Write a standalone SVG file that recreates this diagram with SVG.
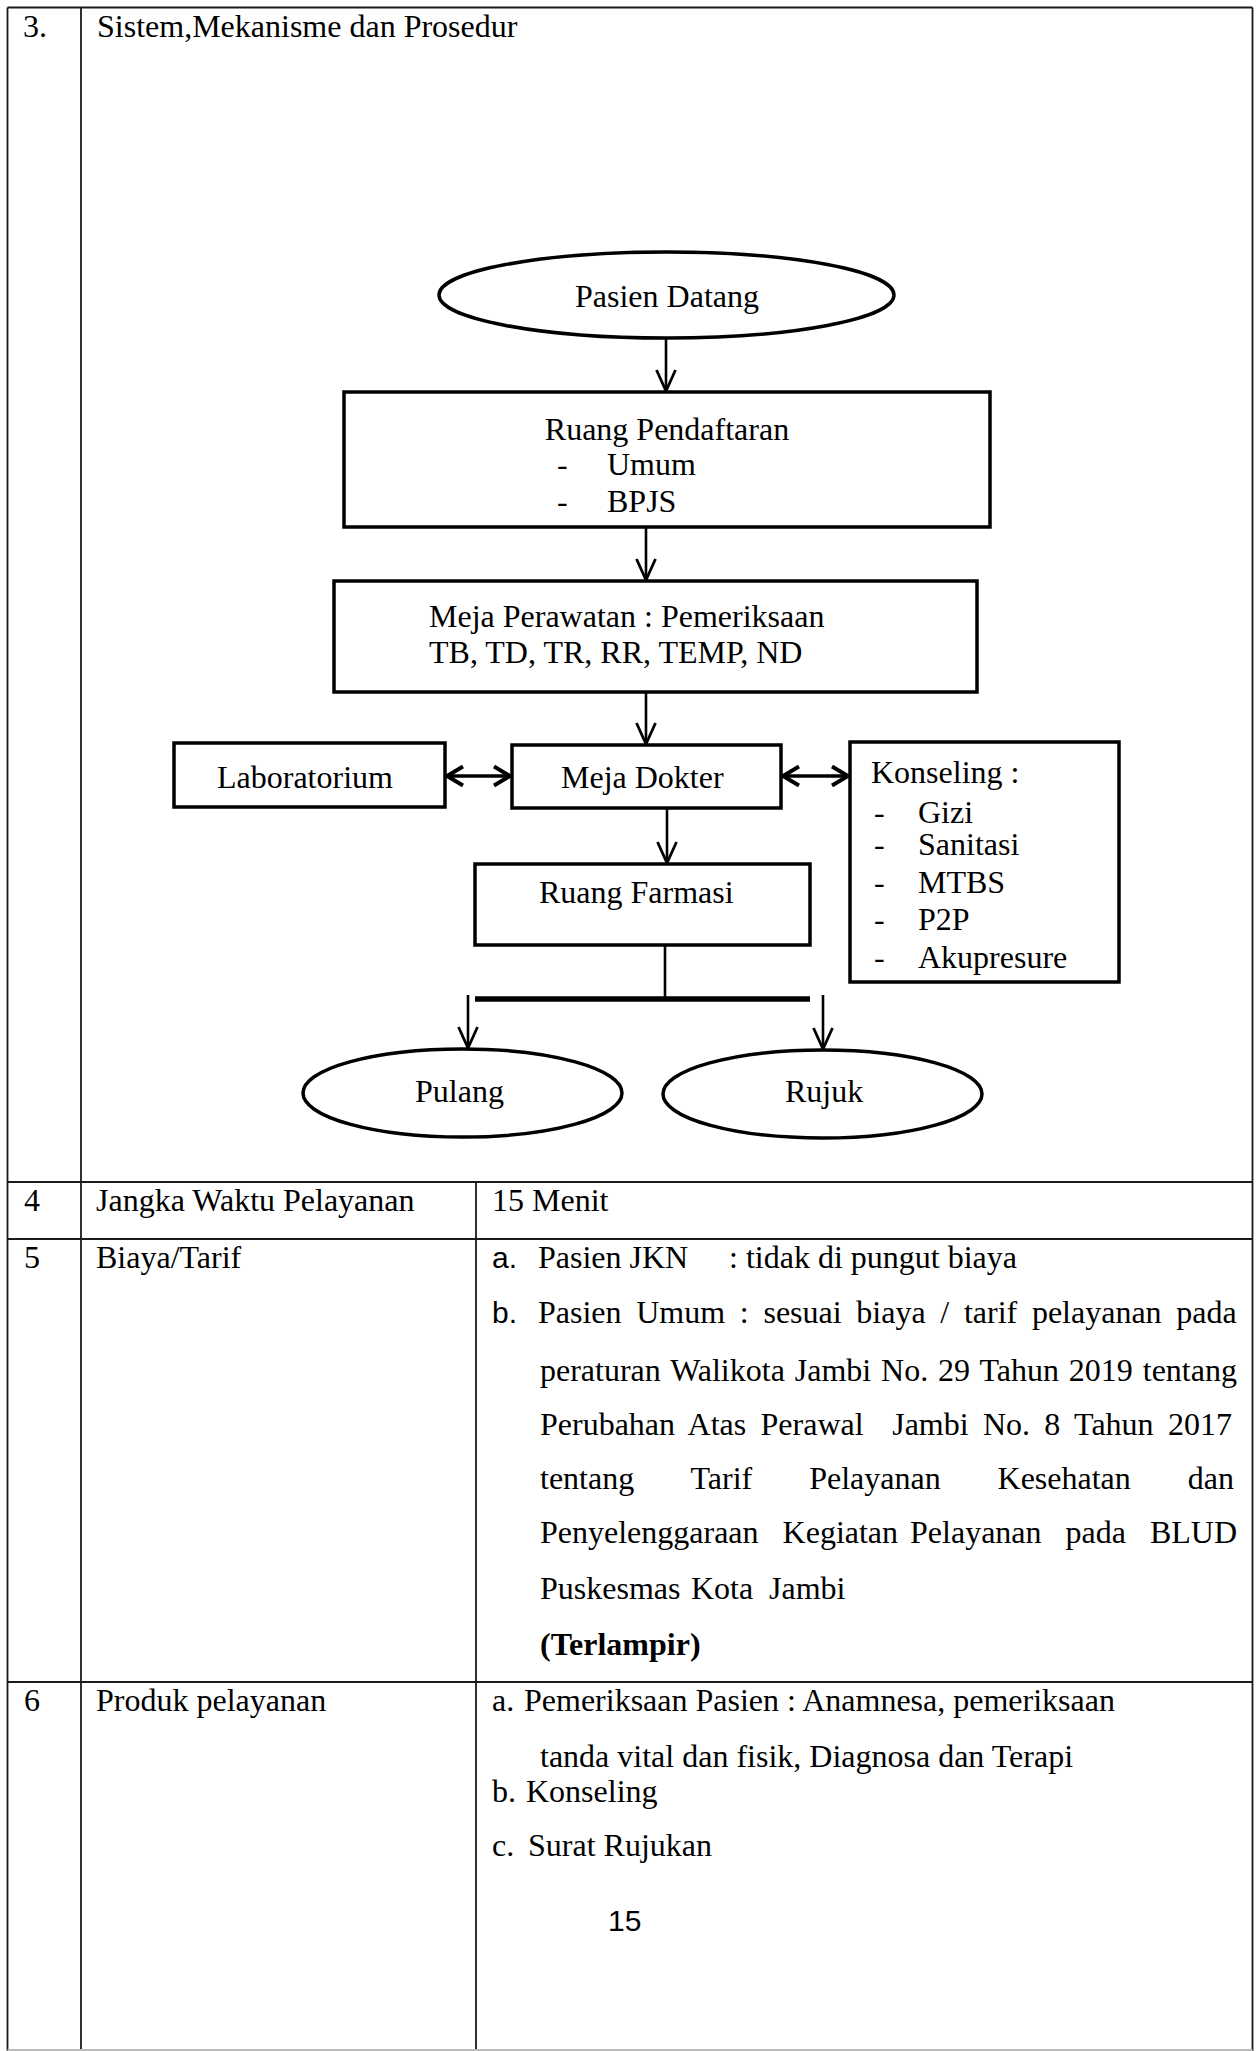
<svg xmlns="http://www.w3.org/2000/svg" width="1259" height="2051" viewBox="0 0 1259 2051">
<style>
.t{font-family:"Liberation Serif","Times New Roman",serif;font-size:32px;fill:#000}
.s{font-family:"Liberation Sans",Arial,sans-serif;font-size:30px;fill:#000}
.b{font-weight:bold}
.grid{stroke:#1a1a1a;stroke-width:1.8;fill:none}
.box{fill:#fff;stroke:#000;stroke-width:3.5}
.arr{stroke:#000;stroke-width:2.6;fill:none;marker-end:url(#ah)}
.dbl{stroke:#000;stroke-width:3.5;fill:none;marker-end:url(#ah2);marker-start:url(#ah2)}
</style>
<defs>
<marker id="ah" markerUnits="userSpaceOnUse" markerWidth="26" markerHeight="26" viewBox="0 0 26 26" refX="24" refY="13" orient="auto">
<path d="M3,3.5 L24,13 L3,22.5" fill="none" stroke="#000" stroke-width="2.8"/>
</marker>
<marker id="ah2" markerUnits="userSpaceOnUse" markerWidth="26" markerHeight="26" viewBox="0 0 26 26" refX="23" refY="13" orient="auto-start-reverse">
<path d="M7,3.5 L23,13 L7,22.5" fill="none" stroke="#000" stroke-width="3.8"/>
</marker>
</defs>
<rect width="1259" height="2051" fill="#fff"/>

<g id="table" class="grid">
<line x1="7.5" y1="7.5" x2="1252.5" y2="7.5"/>
<line x1="7.5" y1="7.5" x2="7.5" y2="2051"/>
<line x1="81" y1="7.5" x2="81" y2="2051"/>
<line x1="1252.5" y1="7.5" x2="1252.5" y2="2051"/>
<line x1="7.5" y1="1182" x2="1252.5" y2="1182"/>
<line x1="7.5" y1="1239" x2="1252.5" y2="1239"/>
<line x1="7.5" y1="1682" x2="1252.5" y2="1682"/>
<line x1="476" y1="1182" x2="476" y2="2051"/>
<line x1="7.5" y1="2050" x2="1252.5" y2="2050" stroke="#bbb"/>
</g>

<g id="row3-text">
<text class="t" x="23" y="37">3.</text>
<text class="t" x="97" y="37">Sistem,Mekanisme dan Prosedur</text>
</g>

<g id="connectors">
<line class="arr" x1="666" y1="338" x2="666" y2="391"/>
<line class="arr" x1="646" y1="527" x2="646" y2="580"/>
<line class="arr" x1="646" y1="692" x2="646" y2="744"/>
<line class="arr" x1="667" y1="808" x2="667" y2="863"/>
<line class="dbl" x1="447" y1="776" x2="510" y2="776"/>
<line class="dbl" x1="783" y1="776" x2="848" y2="776"/>
<line x1="665" y1="945" x2="665" y2="999" stroke="#000" stroke-width="2.6"/>
<line x1="475" y1="999" x2="810" y2="999" stroke="#000" stroke-width="5.5"/>
<line class="arr" x1="468" y1="995" x2="468" y2="1048"/>
<line class="arr" x1="823" y1="995" x2="823" y2="1049"/>
</g>

<g id="pasien-datang">
<ellipse class="box" cx="666.5" cy="295" rx="227.5" ry="43"/>
<text class="t" x="667" y="307" text-anchor="middle">Pasien Datang</text>
</g>

<g id="ruang-pendaftaran">
<rect class="box" x="344" y="392" width="646" height="135"/>
<text class="t" x="667" y="440" text-anchor="middle">Ruang Pendaftaran</text>
<text class="t" x="557" y="475">-</text>
<text class="t" x="607" y="475">Umum</text>
<text class="t" x="557" y="512">-</text>
<text class="t" x="607" y="512">BPJS</text>
</g>

<g id="meja-perawatan">
<rect class="box" x="334" y="581" width="643" height="111"/>
<text class="t" x="429" y="627">Meja Perawatan : Pemeriksaan</text>
<text class="t" x="429" y="663">TB, TD, TR, RR, TEMP, ND</text>
</g>

<g id="laboratorium">
<rect class="box" x="174" y="743" width="271" height="64"/>
<text class="t" x="217" y="788">Laboratorium</text>
</g>

<g id="meja-dokter">
<rect class="box" x="512" y="745" width="269" height="63"/>
<text class="t" x="561" y="788">Meja Dokter</text>
</g>

<g id="konseling">
<rect class="box" x="850" y="742" width="269" height="240"/>
<text class="t" x="871" y="783">Konseling :</text>
<text class="t" x="874" y="823">-</text><text class="t" x="918" y="823">Gizi</text>
<text class="t" x="874" y="855">-</text><text class="t" x="918" y="855">Sanitasi</text>
<text class="t" x="874" y="893">-</text><text class="t" x="918" y="893">MTBS</text>
<text class="t" x="874" y="930">-</text><text class="t" x="918" y="930">P2P</text>
<text class="t" x="874" y="968">-</text><text class="t" x="918" y="968">Akupresure</text>
</g>

<g id="ruang-farmasi">
<rect class="box" x="475" y="864" width="335" height="81"/>
<text class="t" x="539" y="903">Ruang Farmasi</text>
</g>

<g id="pulang">
<ellipse class="box" cx="462.5" cy="1093" rx="159.5" ry="44"/>
<text class="t" x="415" y="1102">Pulang</text>
</g>

<g id="rujuk">
<ellipse class="box" cx="822.5" cy="1094" rx="159.5" ry="44"/>
<text class="t" x="785" y="1102">Rujuk</text>
</g>

<g id="row4">
<text class="t" x="24" y="1211">4</text>
<text class="t" x="96" y="1211">Jangka Waktu Pelayanan</text>
<text class="t" x="492" y="1211">15 Menit</text>
</g>

<g id="row5">
<text class="t" x="24" y="1268">5</text>
<text class="t" x="96" y="1268">Biaya/Tarif</text>
<text class="s" x="492" y="1268">a.</text>
<text class="t" x="538" y="1268">Pasien JKN</text>
<text class="t" x="729" y="1268">: tidak di pungut biaya</text>
<text class="s" x="492" y="1323">b.</text>
<text class="t" x="538" y="1323" word-spacing="6.7">Pasien Umum : sesuai biaya / tarif pelayanan pada</text>
<text class="t" x="540" y="1381" word-spacing="1.9">peraturan Walikota Jambi No. 29 Tahun 2019 tentang</text>
<text class="t" x="540" y="1435" word-spacing="6.3" xml:space="preserve">Perubahan Atas Perawal  Jambi No. 8 Tahun 2017</text>
<text class="t" x="540" y="1489" word-spacing="48.9">tentang Tarif Pelayanan Kesehatan dan</text>
<text class="t" x="540" y="1543" word-spacing="4" xml:space="preserve">Penyelenggaraan  Kegiatan Pelayanan  pada  BLUD</text>
<text class="t" y="1599"><tspan x="540">Puskesmas</tspan><tspan x="691">Kota</tspan><tspan x="769">Jambi</tspan></text>
<text class="t b" x="540" y="1655">(Terlampir)</text>
</g>

<g id="row6">
<text class="t" x="24" y="1711">6</text>
<text class="t" x="96" y="1711">Produk pelayanan</text>
<text class="t" y="1711"><tspan x="492">a.</tspan><tspan x="524">Pemeriksaan Pasien : Anamnesa, pemeriksaan</tspan></text>
<text class="t" x="540" y="1767">tanda vital dan fisik, Diagnosa dan Terapi</text>
<text class="t" y="1802"><tspan x="492">b.</tspan><tspan x="526">Konseling</tspan></text>
<text class="t" y="1856"><tspan x="492">c.</tspan><tspan x="528">Surat Rujukan</tspan></text>
<text class="s" x="608" y="1931">15</text>
</g>
</svg>
